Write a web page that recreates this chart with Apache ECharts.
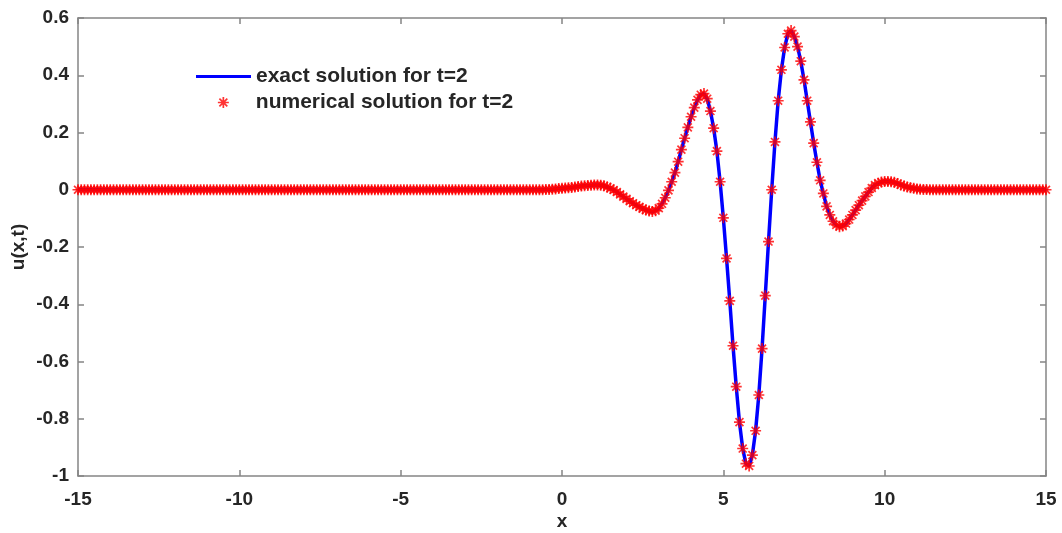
<!DOCTYPE html>
<html>
<head>
<meta charset="utf-8">
<script src="https://cdn.jsdelivr.net/npm/echarts@6/dist/echarts.min.js"></script>
<style>
html,body{margin:0;padding:0;background:#fff;}
#chart{width:1062px;height:533px;}
</style>
</head>
<body>
<div id="chart"></div>
<script>
// Sample positions x (step 0.1 from -15 to 15)
const xGrid = [
-15,-14.9,-14.8,-14.7,-14.6,-14.5,-14.4,-14.3,-14.2,-14.1,
-14,-13.9,-13.8,-13.7,-13.6,-13.5,-13.4,-13.3,-13.2,-13.1,
-13,-12.9,-12.8,-12.7,-12.6,-12.5,-12.4,-12.3,-12.2,-12.1,
-12,-11.9,-11.8,-11.7,-11.6,-11.5,-11.4,-11.3,-11.2,-11.1,
-11,-10.9,-10.8,-10.7,-10.6,-10.5,-10.4,-10.3,-10.2,-10.1,
-10,-9.9,-9.8,-9.7,-9.6,-9.5,-9.4,-9.3,-9.2,-9.1,
-9,-8.9,-8.8,-8.7,-8.6,-8.5,-8.4,-8.3,-8.2,-8.1,
-8,-7.9,-7.8,-7.7,-7.6,-7.5,-7.4,-7.3,-7.2,-7.1,
-7,-6.9,-6.8,-6.7,-6.6,-6.5,-6.4,-6.3,-6.2,-6.1,
-6,-5.9,-5.8,-5.7,-5.6,-5.5,-5.4,-5.3,-5.2,-5.1,
-5,-4.9,-4.8,-4.7,-4.6,-4.5,-4.4,-4.3,-4.2,-4.1,
-4,-3.9,-3.8,-3.7,-3.6,-3.5,-3.4,-3.3,-3.2,-3.1,
-3,-2.9,-2.8,-2.7,-2.6,-2.5,-2.4,-2.3,-2.2,-2.1,
-2,-1.9,-1.8,-1.7,-1.6,-1.5,-1.4,-1.3,-1.2,-1.1,
-1,-0.9,-0.8,-0.7,-0.6,-0.5,-0.4,-0.3,-0.2,-0.1,
0,0.1,0.2,0.3,0.4,0.5,0.6,0.7,0.8,0.9,
1,1.1,1.2,1.3,1.4,1.5,1.6,1.7,1.8,1.9,
2,2.1,2.2,2.3,2.4,2.5,2.6,2.7,2.8,2.9,
3,3.1,3.2,3.3,3.4,3.5,3.6,3.7,3.8,3.9,
4,4.1,4.2,4.3,4.4,4.5,4.6,4.7,4.8,4.9,
5,5.1,5.2,5.3,5.4,5.5,5.6,5.7,5.8,5.9,
6,6.1,6.2,6.3,6.4,6.5,6.6,6.7,6.8,6.9,
7,7.1,7.2,7.3,7.4,7.5,7.6,7.7,7.8,7.9,
8,8.1,8.2,8.3,8.4,8.5,8.6,8.7,8.8,8.9,
9,9.1,9.2,9.3,9.4,9.5,9.6,9.7,9.8,9.9,
10,10.1,10.2,10.3,10.4,10.5,10.6,10.7,10.8,10.9,
11,11.1,11.2,11.3,11.4,11.5,11.6,11.7,11.8,11.9,
12,12.1,12.2,12.3,12.4,12.5,12.6,12.7,12.8,12.9,
13,13.1,13.2,13.3,13.4,13.5,13.6,13.7,13.8,13.9,
14,14.1,14.2,14.3,14.4,14.5,14.6,14.7,14.8,14.9,
15
];

// u(x,2) (exact and numerical coincide at plot scale)
const uExact = [
0,0,0,0,0,0,0,0,0,0,
0,0,0,0,0,0,0,0,0,0,
0,0,0,0,0,0,0,0,0,0,
0,0,0,0,0,0,0,0,0,0,
0,0,0,0,0,0,0,0,0,0,
0,0,0,0,0,0,0,0,0,0,
0,0,0,0,0,0,0,0,0,0,
0,0,0,0,0,0,0,0,0,0,
0,0,0,0,0,0,0,0,0,0,
0,0,0,0,0,0,0,0,0,0,
0,0,0,0,0,0,0,0,0,0,
0,0,0,0,0,0,0,0,0,0,
0,0,0,0,0,0,0,0,0,0,
0,0,0,0,0,0,0,0,0,0,
0,0,0,0,0,0.001,0.001,0.002,0.003,0.004,
0.005,0.006,0.007,0.008,0.010,0.011,0.013,0.014,0.015,0.016,
0.017,0.017,0.016,0.014,0.010,0.005,-0.001,-0.008,-0.016,-0.024,
-0.032,-0.040,-0.047,-0.054,-0.060,-0.066,-0.071,-0.074,-0.076,-0.073,
-0.064,-0.049,-0.028,-0.002,0.028,0.060,0.098,0.140,0.180,0.218,
0.255,0.287,0.314,0.332,0.336,0.318,0.275,0.215,0.135,0.028,
-0.098,-0.240,-0.388,-0.545,-0.688,-0.812,-0.904,-0.957,-0.965,-0.927,
-0.842,-0.717,-0.555,-0.370,-0.181,0.000,0.167,0.311,0.419,0.497,
0.545,0.556,0.535,0.500,0.449,0.384,0.311,0.237,0.163,0.096,
0.033,-0.013,-0.058,-0.088,-0.110,-0.123,-0.129,-0.127,-0.118,-0.104,
-0.088,-0.071,-0.054,-0.038,-0.023,-0.008,0.006,0.016,0.023,0.027,
0.029,0.029,0.028,0.026,0.022,0.017,0.013,0.010,0.007,0.005,
0.003,0.002,0.001,0.001,0,0,0,0,0,0,
0,0,0,0,0,0,0,0,0,0,
0,0,0,0,0,0,0,0,0,0,
0,0,0,0,0,0,0,0,0,0,
0
];
const uNumerical = uExact.slice();

const seriesNames = ['exact solution for t=2', 'numerical solution for t=2'];
const xTicks = { min: -15, max: 15, interval: 5 };
const yTicks = { min: -1, max: 0.6, interval: 0.2 };

const FONT = '"Liberation Sans", Arial, Helvetica, sans-serif';
const AXIS_COLOR = '#858585';
const TEXT_COLOR = '#262626';
const STAR = 'path://M0,-5L0,5M-5,0L5,0M-3.6,-3.6L3.6,3.6M-3.6,3.6L3.6,-3.6';

const exactData = xGrid.map((x, i) => [x, uExact[i]]);
const numData = xGrid.map((x, i) => [x, uNumerical[i]]);

const labelStyle = { color: TEXT_COLOR, fontFamily: FONT, fontWeight: 'bold', fontSize: 19 };
const legendText = { color: TEXT_COLOR, fontFamily: FONT, fontWeight: 'bold', fontSize: 21, padding: 0 };

const chart = echarts.init(document.getElementById('chart'), null, { renderer: 'canvas' });
chart.setOption({
  animation: false,
  backgroundColor: '#ffffff',
  grid: { left: 78, right: 16, top: 18, bottom: 57, containLabel: false, outerBoundsMode: 'none' },
  legend: [
    {
      data: [{ name: seriesNames[0], icon: 'rect' }], left: 196, top: 66, orient: 'vertical', padding: 0,
      itemWidth: 55, itemHeight: 3, itemGap: 5,
      textStyle: legendText
    },
    {
      data: [{ name: seriesNames[1], icon: STAR }], left: 217, top: 92, orient: 'vertical', padding: 0,
      itemWidth: 55, itemHeight: 11, itemGap: 5,
      itemStyle: { color: 'rgba(255,0,0,0)', borderColor: '#ff0000', borderWidth: 1.7 },
      textStyle: legendText
    }
  ],
  xAxis: [
    {
      type: 'value', position: 'bottom', min: xTicks.min, max: xTicks.max, interval: xTicks.interval,
      name: 'x', nameLocation: 'middle', nameGap: 36, nameMoveOverlap: false,
      nameTextStyle: labelStyle,
      axisLine: { show: true, onZero: false, lineStyle: { color: AXIS_COLOR, width: 1.5 } },
      axisTick: { show: true, inside: true, length: 6, lineStyle: { color: AXIS_COLOR, width: 1.5 } },
      axisLabel: Object.assign({ margin: 14 }, labelStyle),
      splitLine: { show: false }
    },
    {
      type: 'value', position: 'top', min: xTicks.min, max: xTicks.max, interval: xTicks.interval,
      axisLine: { show: true, onZero: false, lineStyle: { color: AXIS_COLOR, width: 1.5 } },
      axisTick: { show: true, inside: true, length: 6, lineStyle: { color: AXIS_COLOR, width: 1.5 } },
      axisLabel: { show: false },
      splitLine: { show: false }
    }
  ],
  yAxis: [
    {
      type: 'value', position: 'left', min: yTicks.min, max: yTicks.max, interval: yTicks.interval,
      name: 'u(x,t)', nameLocation: 'middle', nameGap: 50, nameMoveOverlap: false,
      nameTextStyle: labelStyle,
      axisLine: { show: true, onZero: false, lineStyle: { color: AXIS_COLOR, width: 1.5 } },
      axisTick: { show: true, inside: true, length: 6, lineStyle: { color: AXIS_COLOR, width: 1.5 } },
      axisLabel: Object.assign({ margin: 9 }, labelStyle),
      splitLine: { show: false }
    },
    {
      type: 'value', position: 'right', min: yTicks.min, max: yTicks.max, interval: yTicks.interval,
      axisLine: { show: true, onZero: false, lineStyle: { color: AXIS_COLOR, width: 1.5 } },
      axisTick: { show: true, inside: true, length: 6, lineStyle: { color: AXIS_COLOR, width: 1.5 } },
      axisLabel: { show: false },
      splitLine: { show: false }
    }
  ],
  series: [
    {
      name: seriesNames[0], type: 'line', xAxisIndex: 0, yAxisIndex: 0,
      data: exactData, symbol: 'none', smooth: false,
      lineStyle: { color: '#0000ff', width: 3.5 },
      itemStyle: { color: '#0000ff' },
      z: 2
    },
    {
      name: seriesNames[1], type: 'scatter', xAxisIndex: 0, yAxisIndex: 0,
      data: numData, symbol: STAR, symbolSize: 11,
      itemStyle: { color: 'rgba(255,0,0,0)', borderColor: '#ff0000', borderWidth: 1.7 },
      z: 3
    }
  ]
});
</script>
</body>
</html>
